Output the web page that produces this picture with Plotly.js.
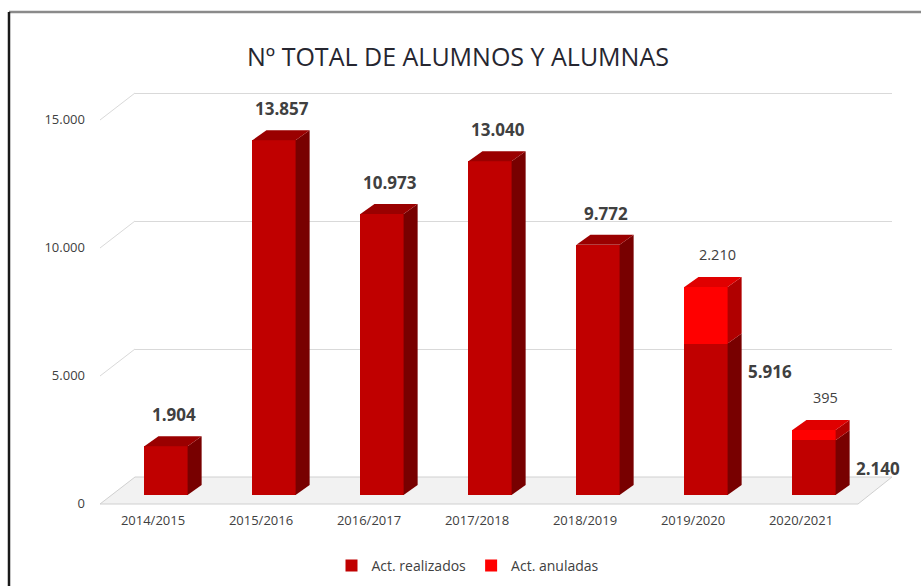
<!DOCTYPE html>
<html>
<head>
<meta charset="utf-8">
<script src="https://cdn.plot.ly/plotly-3.0.1.min.js"></script>
<style>html,body{margin:0;padding:0;background:#fff;}#chart{width:921px;height:586px;}</style>
</head>
<body>
<div id="chart"></div>
<script>
// ---- data ----
const categories = ['2014/2015', '2015/2016', '2016/2017', '2017/2018', '2018/2019', '2019/2020', '2020/2021'];
const realizados = [1904, 13857, 10973, 13040, 9772, 5916, 2140];
const anuladas = [null, null, null, null, null, 2210, 395];
const yTicks = [0, 5000, 10000, 15000];
const seriesNames = ['Act. realizados', 'Act. anuladas'];
const chartTitle = 'Nº TOTAL DE ALUMNOS Y ALUMNAS';

// ---- helpers ----
const W = 921, H = 586;
const px = x => x / W;
const py = y => 1 - y / H;
const fmt = v => String(v).replace(/\B(?=(\d{3})+(?!\d))/g, '.');
const xs = categories.map((_, i) => i);

const FONT = '"Open Sans", Lato, sans-serif';
const YMAX = 16000;
const HALF = 0.2;     // half bar width in category units
const DX = 0.13;      // depth offset (category units)
const DY = 390;       // depth offset (value units)

const colors = {
  real: {front: '#C00000', side: '#780000', top: '#9A0000'},
  anul: {front: '#FF0000', side: '#B00000', top: '#E00000'}
};

const shapes = [];
// frame
shapes.push({type: 'line', xref: 'paper', yref: 'paper', x0: px(9), x1: px(921), y0: py(12), y1: py(12), line: {color: '#8a8a8a', width: 2.5}});
shapes.push({type: 'line', xref: 'paper', yref: 'paper', x0: px(9), x1: px(9), y0: py(12), y1: py(586), line: {color: '#1a1a1a', width: 2.5}});
// floor
shapes.push({type: 'path', xref: 'paper', yref: 'paper', layer: 'below',
  path: `M ${px(100)},${py(504)} L ${px(135)},${py(477)} L ${px(892)},${py(477)} L ${px(858)},${py(504)} Z`,
  fillcolor: '#f2f2f2', line: {color: '#d0d0d0', width: 1}});
// connectors from the tick labels to the back wall
const backScale = 0.0256;
yTicks.forEach(v => {
  if (v === 0) return;
  shapes.push({type: 'line', xref: 'paper', yref: 'paper', layer: 'below',
    x0: px(100), y0: py(504 - v * backScale), x1: px(135), y1: py(477 - v * backScale),
    line: {color: '#d9d9d9', width: 1}});
});

function box(i, y0, y1, c, withTop) {
  const xl = i - HALF, xr = i + HALF;
  shapes.push({type: 'path', xref: 'x2', yref: 'y2', layer: 'above',
    path: `M ${xr},${y0} L ${xr + DX},${y0 + DY} L ${xr + DX},${y1 + DY} L ${xr},${y1} Z`,
    fillcolor: c.side, line: {width: 0}});
  if (withTop) {
    shapes.push({type: 'path', xref: 'x2', yref: 'y2', layer: 'above',
      path: `M ${xl},${y1} L ${xl + DX},${y1 + DY} L ${xr + DX},${y1 + DY} L ${xr},${y1} Z`,
      fillcolor: c.top, line: {width: 0}});
  }
}
xs.forEach(i => {
  const r = realizados[i] || 0;
  const a = anuladas[i] || 0;
  box(i, 0, r, colors.real, a === 0);
  if (a > 0) box(i, r, r + a, colors.anul, true);
});

// annotations
const annotations = [];
annotations.push({xref: 'paper', yref: 'paper', x: px(458), y: py(56), text: chartTitle, showarrow: false,
  xanchor: 'center', yanchor: 'middle', font: {family: FONT, size: 25, color: '#262630'}});
xs.forEach(i => {
  const r = realizados[i];
  const a = anuladas[i];
  if (a) {
    annotations.push({xref: 'x2', yref: 'y2', x: i, y: r, text: '<b>' + fmt(r) + '</b>', showarrow: false,
      xanchor: 'left', yanchor: 'middle', xshift: 40, yshift: -28, font: {family: FONT, size: 17, color: '#404040'}});
    annotations.push({xref: 'x2', yref: 'y2', x: i, y: r + a, text: fmt(a), showarrow: false,
      xanchor: 'center', yanchor: 'bottom', xshift: 11, yshift: 21, font: {family: FONT, size: 14.5, color: '#404040'}});
  } else {
    annotations.push({xref: 'x2', yref: 'y2', x: i, y: r, text: '<b>' + fmt(r) + '</b>', showarrow: false,
      xanchor: 'center', yanchor: 'bottom', xshift: 8, yshift: 18, font: {family: FONT, size: 17, color: '#404040'}});
  }
});

const traces = [
  {type: 'scatter', x: [null], y: [null], xaxis: 'x', yaxis: 'y', showlegend: false, hoverinfo: 'skip'},
  {type: 'bar', name: seriesNames[0], x: xs, y: realizados, xaxis: 'x2', yaxis: 'y2', width: 2 * HALF,
    marker: {color: colors.real.front, line: {width: 0}}, hoverinfo: 'skip'},
  {type: 'bar', name: seriesNames[1], x: xs, y: anuladas, xaxis: 'x2', yaxis: 'y2', width: 2 * HALF,
    marker: {color: colors.anul.front, line: {width: 0}}, hoverinfo: 'skip'}
];

const layout = {
  width: W, height: H,
  margin: {l: 0, r: 0, t: 0, b: 0},
  paper_bgcolor: '#ffffff', plot_bgcolor: 'rgba(0,0,0,0)',
  separators: ',.',
  barmode: 'stack',
  font: {family: FONT, color: '#404040'},
  // back wall (gridlines)
  xaxis: {domain: [px(135), px(892)], range: [0, 1], showgrid: false, zeroline: false, showticklabels: false, showline: false, fixedrange: true},
  yaxis: {domain: [py(477), py(477 - YMAX * backScale)], range: [0, YMAX], anchor: 'x', tickvals: yTicks,
    showgrid: true, gridcolor: '#d9d9d9', gridwidth: 1, zeroline: false, showticklabels: false, showline: false, fixedrange: true},
  // bars (front plane)
  xaxis2: {domain: [px(112), px(868)], range: [-0.5, 6.5], anchor: 'y2', tickvals: xs, ticktext: categories,
    showgrid: false, zeroline: false, showline: false, ticks: '', ticklabelshift: -13, ticklabelstandoff: 16,
    tickfont: {family: FONT, size: 13, color: '#404040'}, fixedrange: true},
  yaxis2: {domain: [py(495), py(495 - YMAX * backScale)], range: [0, YMAX], anchor: 'x2', tickvals: yTicks, tickformat: ',',
    showgrid: false, zeroline: false, showline: false, ticks: '', ticklabelshift: 8, ticklabelstandoff: 26,
    tickfont: {family: FONT, size: 13, color: '#404040'}, fixedrange: true},
  showlegend: true,
  legend: {orientation: 'h', x: px(468), xanchor: 'center', y: py(566), yanchor: 'middle', traceorder: 'normal',
    font: {family: FONT, size: 14, color: '#404040'}, itemwidth: 30, bgcolor: 'rgba(0,0,0,0)'},
  shapes: shapes,
  annotations: annotations
};

Plotly.newPlot('chart', traces, layout, {displayModeBar: false, staticPlot: true});
</script>
</body>
</html>
